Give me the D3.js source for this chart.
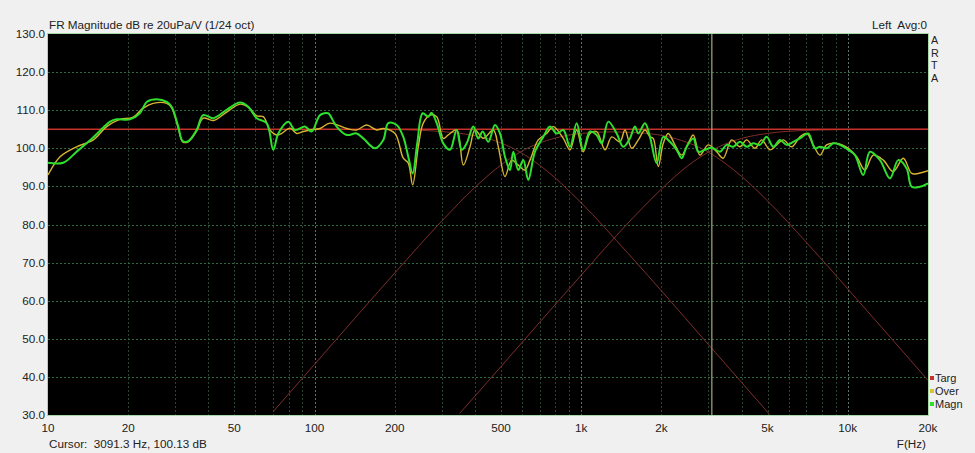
<!DOCTYPE html>
<html>
<head>
<meta charset="utf-8">
<script src="https://cdn.jsdelivr.net/npm/d3@7"></script>
<style>
  html, body { margin: 0; padding: 0; background: #f0f0f0; }
  svg { display: block; font-family: "Liberation Sans", Arial, sans-serif; }
</style>
</head>
<body>
<svg id="chart" width="975" height="453"></svg>
<script>
// ---------- data ----------
const freqTicks = [10, 20, 50, 100, 200, 500, 1000, 2000, 5000, 10000, 20000];
const freqTickLabels = ["10", "20", "50", "100", "200", "500", "1k", "2k", "5k", "10k", "20k"];
const freqGrid = [20,30,40,50,60,70,80,90,100,200,300,400,500,600,700,800,900,1000,2000,3000,4000,5000,6000,7000,8000,9000,10000];
const dbTicks = [30, 40, 50, 60, 70, 80, 90, 100, 110, 120, 130];

// Magn (green)
const magnF = [10,11.4,12.8,14.7,17.1,18.1,20.3,22.1,23.5,25.6,27.9,29.1,30.8,32.0,33.6,36.1,38.2,41.7,46.8,52.5,56.4,60.7,66.1,70.0,73.1,79.7,84.4,92.0,97.5,104.8,112.3,114.2,121,132,143.8,152.3,168.5,181,189,203.2,215.1,224.6,233.3,242.7,254.4,267,274.9,287.1,303.9,322,341.2,356.3,372,393.9,411.2,427.1,448.3,475,496,517.9,540.7,556.4,580.9,606.5,633.3,671,721,763.8,809.3,857,907.8,961.8,1018,1079,1143,1194,1264,1359,1439,1524,1591,1638,1735,1812,1920,2032,2153,2281,2382,2487,2634,2749,2913,3091,3317,3514,3720,3941,4176,4422,4685,4963,5255,5568,5898,6246,6617,7110,7534,7865,8332,8822,9348,10043,10641,11433,12113,13208,14400,15467,16633,17370,18659,20000];
const magnDb = [96.2,96.2,99.1,102.7,107.0,107.6,107.6,109.2,112.2,112.9,112.2,110.9,105.7,101.9,101.9,104.8,108.7,107.9,110.1,112.0,110.9,107.9,106.6,99.6,103.9,107.0,104.8,105.7,104.4,108.7,109.2,108.7,105.7,103.5,103.9,102.6,100.0,102.2,106.6,106.1,103.0,97.8,93.4,101.3,109.2,108.3,109.3,106.6,101.3,99.6,104.8,99.6,101.3,105.7,102.6,104.4,101.7,106.1,103.9,97.8,94.3,99.1,94.3,96.9,91.7,99.1,103.0,105.7,103.9,104.8,100.4,106.6,99.6,104.4,103.5,101.3,107.0,103.9,100.4,102.6,105.7,103.9,106.6,103.0,96.1,103.0,101.7,99.6,97.4,100.4,102.6,99.1,99.6,100.13,99.1,100.9,100.4,101.7,100.4,101.3,100.9,103.0,100.4,102.2,100.9,101.7,102.6,103.9,100.0,100.4,100.0,101.3,100.9,99.6,98.2,93.0,99.1,96.9,92.1,96.9,94.7,89.9,89.9,90.8];

// Over (yellow)
const overF = [10,11.1,12.8,14.8,16.6,18.6,20.8,22.7,24.8,27.9,29.1,30.8,32.0,33.6,36.1,38.2,41.7,46.8,52.5,56.4,60.7,64.2,68.0,72.1,75.3,80.9,85.7,90.7,96.1,104.8,114.2,132,143.8,156.8,171,181,200.3,215.1,224.6,233.3,244.9,255.6,270.9,287.1,303.9,317.3,341.2,361.3,382.8,399.7,429.3,468.1,488.8,517.9,548.8,580.9,615.5,642.7,690.5,742,785.5,857,907.8,961.8,1018,1079,1143,1229,1302,1398,1460,1547,1638,1735,1812,1864,1946,2032,2122,2247,2382,2522,2634,2790,2997,3223,3412,3668,3941,4176,4487,4754,5108,5412,5730,6162,6617,7012,7424,7865,8332,9085,10043,10800,11600,12463,13589,14809,16150,17370,18390,20000];
const overDb = [93.0,97.8,100.4,102.2,105.7,107.6,108.1,110.5,111.8,111.8,110.6,105.3,101.7,101.7,104.5,107.9,107.3,109.5,111.6,110.8,108.5,108.3,104.8,103.5,103.9,105.3,103.9,104.4,104.8,105.2,106.6,105.2,104.8,106.1,104.8,105.2,103.9,97.4,96.1,90.4,100.4,106.6,108.7,108.3,102.6,103.5,104.8,95.6,100.4,104.8,102.6,104.8,100.4,92.6,96.9,95.6,94.3,96.9,102.2,103.9,105.7,102.6,99.6,104.8,99.1,103.9,104.4,99.6,103.0,101.7,104.8,100.0,102.2,104.8,103.0,102.6,95.2,101.3,103.9,100.9,98.2,101.3,103.5,98.2,100.9,99.1,97.4,102.2,100.4,102.2,100.0,102.2,99.6,100.9,102.2,100.4,103.0,103.9,100.9,98.2,100.9,101.3,100.0,97.8,94.3,98.2,96.9,93.9,97.4,93.4,93.4,94.1];

// Targ (red): flat sum target and three crossover section targets
const targFlatF = [10, 20000];
const targFlatDb = [105, 105];
const targWooferF = [200,300,400,455,500,590,700,800,964,1000,1500,2000,3000,5100];
const targWooferDb = [104.9,104.4,103.3,102.4,101.4,99.0,95.5,92.2,86.8,85.7,72.4,62.6,48.5,30.1];
const targMidF = [70,100,150,200,300,400,500,590,800,1000,1300,1700,2200,3000,4000,5000,7000,10000,15000,20000];
const targMidDb = [30.9,43.3,57.4,67.3,80.9,89.8,95.6,99.0,102.7,103.9,104.3,104.0,102.75,99.0,92.6,86.2,75.3,63.1,49.1,39.1];
const targTweeterF = [350,500,700,1000,1500,2000,2500,3000,4000,5000,7000,10000,20000];
const targTweeterDb = [30.4,42.7,54.4,66.7,80.4,89.3,95.3,99.0,102.6,103.9,104.7,104.9,105];

const cursorF = 3091.3;
const cursorDb = 100.13;

// ---------- layout ----------
const svg = d3.select("#chart");
const L = 48, R = 928, T = 34, B = 415;
const x = d3.scaleLog().domain([10, 20000]).range([L, R]);
const y = d3.scaleLinear().domain([30, 130]).range([B, T]);

const zip = (fs, ds) => fs.map((f, i) => [f, ds[i]]);

svg.append("rect").attr("x", 0).attr("y", 0).attr("width", 975).attr("height", 453).attr("fill", "#f0f0f0");
svg.append("defs").append("clipPath").attr("id", "clip")
  .append("rect").attr("x", L).attr("y", T).attr("width", R - L).attr("height", B - T);

svg.append("rect").attr("x", L).attr("y", T).attr("width", R - L).attr("height", B - T).attr("fill", "#000");

// grid
const grid = svg.append("g");
grid.selectAll("line.v").data(freqGrid).join("line")
  .attr("x1", d => Math.round(x(d)) + 0.5).attr("x2", d => Math.round(x(d)) + 0.5)
  .attr("y1", T).attr("y2", B)
  .attr("stroke", d => [100, 1000, 10000].includes(d) ? "#5c7466" : "#28442f")
  .attr("stroke-width", 1).attr("stroke-dasharray", "2,2");
grid.selectAll("line.h").data(dbTicks.slice(1, -1)).join("line")
  .attr("x1", L).attr("x2", R)
  .attr("y1", d => Math.round(y(d)) + 0.5).attr("y2", d => Math.round(y(d)) + 0.5)
  .attr("stroke", "#2f6a40").attr("stroke-width", 1).attr("stroke-dasharray", "2,2");

const plot = svg.append("g").attr("clip-path", "url(#clip)");
const lineT = d3.line().x(d => x(d[0])).y(d => y(d[1])).curve(d3.curveMonotoneX);
const lineM = d3.line().x(d => x(d[0])).y(d => y(d[1])).curve(d3.curveCatmullRom.alpha(0.5));

// targets
[[targWooferF, targWooferDb], [targMidF, targMidDb], [targTweeterF, targTweeterDb]].forEach(([f, d]) => {
  plot.append("path").attr("d", lineT(zip(f, d))).attr("fill", "none")
    .attr("stroke", "#7e2e2a").attr("stroke-width", 1);
});
plot.append("path").attr("d", lineT(zip(targFlatF, targFlatDb))).attr("fill", "none")
  .attr("stroke", "#c8302c").attr("stroke-width", 1.3);

// cursor
plot.append("line").attr("x1", x(cursorF)).attr("x2", x(cursorF)).attr("y1", T).attr("y2", B)
  .attr("stroke", "#9a9a78").attr("stroke-width", 1.3);

// measured
plot.append("path").attr("d", lineM(zip(overF, overDb))).attr("fill", "none")
  .attr("stroke", "#d8b431").attr("stroke-width", 1.4);
plot.append("path").attr("d", lineM(zip(magnF, magnDb))).attr("fill", "none")
  .attr("stroke", "#2ee02e").attr("stroke-width", 2);

// frame
svg.append("rect").attr("x", L - 0.5).attr("y", T - 0.5).attr("width", R - L + 1).attr("height", B - T + 1)
  .attr("fill", "none").attr("stroke", "#a8d8a8").attr("stroke-width", 1);

// axes labels
const fs = 11.7;
svg.append("g").selectAll("text").data(dbTicks).join("text")
  .attr("x", 45).attr("y", d => y(d) + 4).attr("text-anchor", "end")
  .attr("font-size", fs).attr("fill", "#222").text(d => d.toFixed(1));
svg.append("g").selectAll("text").data(freqTicks).join("text")
  .attr("x", d => x(d)).attr("y", 432).attr("text-anchor", "middle")
  .attr("font-size", fs).attr("fill", "#222").text((d, i) => freqTickLabels[i]);

svg.append("text").attr("x", 49).attr("y", 29).attr("font-size", fs).attr("fill", "#222")
  .text("FR Magnitude dB re 20uPa/V (1/24 oct)");
svg.append("text").attr("x", 927).attr("y", 29).attr("text-anchor", "end").attr("font-size", fs).attr("fill", "#222")
  .attr("xml:space", "preserve").text("Left  Avg:0");
["A", "R", "T", "A"].forEach((c, i) => {
  svg.append("text").attr("x", 931).attr("y", 44 + i * 12.5).attr("font-size", 10.8).attr("fill", "#222").text(c);
});
svg.append("text").attr("x", 49).attr("y", 448).attr("font-size", fs).attr("fill", "#222")
  .attr("xml:space", "preserve")
  .text("Cursor:  " + cursorF.toFixed(1) + " Hz, " + cursorDb.toFixed(2) + " dB");
svg.append("text").attr("x", 926).attr("y", 448).attr("text-anchor", "end").attr("font-size", fs).attr("fill", "#222")
  .text("F(Hz)");

// legend
const legend = [["Targ", "#c8302c"], ["Over", "#d8c431"], ["Magn", "#2ee02e"]];
legend.forEach(([name, col], i) => {
  const yy = 378 + i * 13;
  svg.append("rect").attr("x", 930).attr("y", yy - 2).attr("width", 4).attr("height", 4).attr("fill", col);
  svg.append("text").attr("x", 935).attr("y", yy + 4).attr("font-size", 11).attr("fill", "#222").text(name);
});
</script>
</body>
</html>
